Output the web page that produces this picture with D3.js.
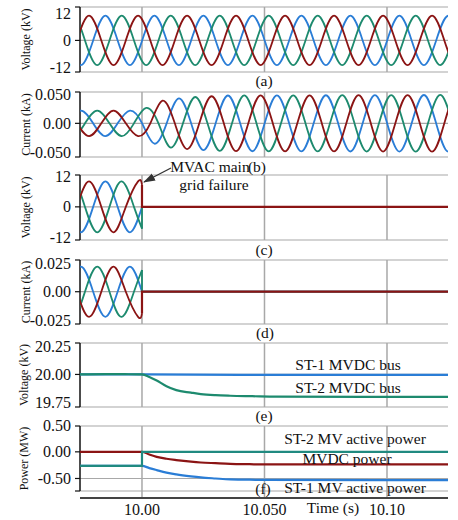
<!DOCTYPE html>
<html>
<head>
<meta charset="utf-8">
<script src="https://cdn.jsdelivr.net/npm/d3@7"></script>
<style>
  body { margin: 0; background: #fff; }
  text { font-family: "Liberation Serif", "Times New Roman", serif; fill: #111; }
</style>
</head>
<body>
<svg id="chart" width="458" height="520"></svg>
<script>
// ---- data ----
var xTicks = [10.00, 10.05, 10.10];
var xTickLabels = ["10.00", "10.050", "10.10"];
var failTime = 10.00;

// three phase ac: 50 Hz, red phase voltage peaks at 9.9984 s
var freq = 50;
var redPeakTime = 9.9984;
var phases = ["blue", "green", "red"];
var phaseLag = [1 / 3, 2 / 3, 0];   // part of a period behind red

// (a) MVAC voltage amplitude (kV)
var voltA_t = [9.97, 10.13];
var voltA_amp = [10.8, 10.8];
// (b) MVAC current amplitude (kA)
var currB_t = [9.97, 10.000, 10.005, 10.010, 10.020, 10.035, 10.13];
var currB_amp = [0.022, 0.022, 0.035, 0.041, 0.045, 0.048, 0.049];
// (c) main grid voltage, drops to zero at failTime
var voltC_amp = 9.9;
var voltC_atFail = [-0.1, -8.5, 8.6];
// (d) main grid current
var currD_amp = 0.022;
var currD_atFail = [0.0, 0.019, -0.019];

// (e) MVDC bus voltages (kV)
var st1BusT = [9.9747, 10.00, 10.04, 10.1249];
var st1Bus = [20.0, 20.0, 19.996, 19.996];
var st2BusT = [9.9747, 9.985, 9.993, 10.000, 10.003, 10.006, 10.010, 10.014, 10.020, 10.024, 10.030, 10.036, 10.045, 10.055, 10.1249];
var st2Bus = [20.0, 20.003, 20.002, 20.0, 19.978, 19.946, 19.895, 19.86, 19.838, 19.825, 19.815, 19.81, 19.806, 19.802, 19.80];

// (f) powers (MW)
var st2PowT = [9.9747, 10.0, 10.0, 10.1249];
var st2Pow = [-0.262, -0.262, 0.0, 0.0];
var mvdcPowT = [9.9747, 10.0, 10.003, 10.006, 10.010, 10.014, 10.020, 10.024, 10.030, 10.036, 10.044, 10.05, 10.1249];
var mvdcPow = [0, 0, -0.05, -0.094, -0.13, -0.155, -0.185, -0.2, -0.213, -0.225, -0.232, -0.236, -0.237];
var st1PowT = [9.9747, 10.0, 10.003, 10.006, 10.010, 10.014, 10.020, 10.024, 10.030, 10.036, 10.044, 10.05, 10.1249];
var st1Pow = [-0.262, -0.262, -0.305, -0.343, -0.39, -0.423, -0.46, -0.48, -0.5, -0.517, -0.522, -0.528, -0.53];

// tick labels
var voltTicks = [12, 0, -12], voltTickLabels = ["12", "0", "-12"];
var currBTicks = [0.05, 0, -0.05], currBTickLabels = ["0.050", "0.00", "-0.050"];
var currDTicks = [0.025, 0, -0.025], currDTickLabels = ["0.025", "0.00", "-0.025"];
var busTicks = [20.25, 20, 19.75], busTickLabels = ["20.25", "20.00", "19.75"];
var powTicks = [0.5, 0, -0.5], powTickLabels = ["0.50", "0.00", "-0.50"];

// ---- layout ----
var colors = {blue: "#2a7dd6", green: "#1d8a6e", red: "#8b1414"};
var svg = d3.select("#chart");
var left = 80, right = 448, axisY = 498;
var x = d3.scaleLinear().domain([9.9747, 10.1249]).range([left, right]);

svg.append("defs").append("clipPath").attr("id", "plot")
    .append("rect").attr("x", left).attr("y", 0).attr("width", right - left).attr("height", 520);
svg.select("defs").append("marker")
    .attr("id", "arrow").attr("markerUnits", "userSpaceOnUse")
    .attr("viewBox", "0 -5 12 10").attr("refX", 11).attr("refY", 0)
    .attr("markerWidth", 12).attr("markerHeight", 10).attr("orient", "auto")
    .append("path").attr("d", "M0,-4L12,0L0,4Z").attr("fill", "#333");

var panels = [
    {top: 7, bottom: 72, domain: [-13.8, 14.6], ticks: voltTicks, tickLabels: voltTickLabels, grid: [0],
     title: "Voltage (kV)", titleX: 26, label: "(a)", labelX: 264, labelY: 86},
    {top: 92, bottom: 157, domain: [-0.058, 0.054], ticks: currBTicks, tickLabels: currBTickLabels, grid: [0],
     title: "Current (kA)", titleX: 26, label: "(b)", labelX: 257, labelY: 172},
    {top: 175, bottom: 240, domain: [-12.9, 12.4], ticks: voltTicks, tickLabels: voltTickLabels, grid: [0],
     title: "Voltage (kV)", titleX: 26, label: "(c)", labelX: 264, labelY: 255},
    {top: 260, bottom: 324, domain: [-0.0283, 0.0278], ticks: currDTicks, tickLabels: currDTickLabels, grid: [0],
     title: "Current (kA)", titleX: 26, label: "(d)", labelX: 265, labelY: 338},
    {top: 343, bottom: 407, domain: [19.71, 20.28], ticks: busTicks, tickLabels: busTickLabels, grid: [20],
     title: "Voltage (kV)", titleX: 24, label: "(e)", labelX: 264, labelY: 421},
    {top: 426, bottom: 491, domain: [-0.735, 0.485], ticks: powTicks, tickLabels: powTickLabels, grid: [0, -0.5],
     title: "Power (MW)", titleX: 24, label: "(f)", labelX: 263, labelY: 494}
];

panels.forEach(function(p, i) {
    p.y = d3.scaleLinear().domain(p.domain).range([p.bottom, p.top]);
    var g = svg.append("g").attr("class", "panel");
    var gridBottom = i == panels.length - 1 ? axisY : p.bottom;

    // horizontal grid: borders plus inner lines
    var hLines = [p.top, p.bottom].concat(p.grid.map(p.y));
    g.selectAll(".hgrid").data(hLines).enter().append("line")
        .attr("x1", left).attr("x2", right).attr("y1", d => d).attr("y2", d => d)
        .attr("stroke", "#a8a8a8").attr("stroke-width", 1.2);
    g.selectAll(".vgrid").data(xTicks).enter().append("line")
        .attr("x1", d => x(d)).attr("x2", d => x(d)).attr("y1", p.top).attr("y2", gridBottom)
        .attr("stroke", "#a8a8a8").attr("stroke-width", 1.5);

    // left axis
    g.append("line").attr("x1", left).attr("x2", left).attr("y1", p.top).attr("y2", p.bottom)
        .attr("stroke", "#111").attr("stroke-width", 1.5);
    g.selectAll(".tick").data(hLines).enter().append("line")
        .attr("x1", left - 5).attr("x2", left).attr("y1", d => d).attr("y2", d => d)
        .attr("stroke", "#111").attr("stroke-width", 1.2);
    g.selectAll(".tlabel").data(p.ticks).enter().append("text")
        .attr("x", left - 9).attr("y", d => p.y(d)).attr("dy", "0.35em")
        .attr("text-anchor", "end").style("font-size", "16px")
        .text((d, j) => p.tickLabels[j]);
    g.append("text")
        .attr("transform", "translate(" + p.titleX + "," + (p.top + p.bottom) / 2 + ") rotate(-90)")
        .attr("text-anchor", "middle").attr("dy", "0.35em").style("font-size", "12px")
        .text(p.title);
    p.g = g;
});

// ---- ac waveforms: extremes and zero crossings through a natural spline ----
function wavePoints(ampAt, sign, lag, t0, t1) {
    var T = 1 / freq, pts = [];
    var base = redPeakTime + lag * T;
    var k0 = Math.floor((t0 - base) / (T / 2)) - 1;
    var k1 = Math.ceil((t1 - base) / (T / 2)) + 1;
    for (var k = k0; k <= k1; k++) {
        var tk = base + k * T / 2;
        var s = ((k % 2) + 2) % 2 == 0 ? 1 : -1;
        pts.push([tk, sign * s * ampAt(tk)]);
        pts.push([tk + T / 4, 0]);
    }
    return pts;
}

function drawWaves(p, ampAt, sign, atFail) {
    var spline = d3.line().x(d => x(d[0])).y(d => p.y(d[1])).curve(d3.curveNatural);
    var straight = d3.line().x(d => x(d[0])).y(d => p.y(d[1]));
    var layer = p.g.append("g").attr("clip-path", "url(#plot)");
    phases.forEach(function(ph, i) {
        var pts = wavePoints(ampAt, sign, phaseLag[i], x.domain()[0], x.domain()[1]);
        if (atFail) {
            pts = pts.filter(d => d[0] < failTime);
            pts.push([failTime, atFail[i]]);
        }
        layer.append("path").attr("d", spline(pts))
            .attr("fill", "none").attr("stroke", colors[ph]).attr("stroke-width", 1.8);
        if (atFail) {
            layer.append("path")
                .attr("d", straight([[failTime, atFail[i]], [failTime, 0], [x.domain()[1], 0]]))
                .attr("fill", "none").attr("stroke", colors[ph]).attr("stroke-width", i == 2 ? 2.2 : 1.8);
        }
    });
}

var ampA = d3.scaleLinear().domain(voltA_t).range(voltA_amp).clamp(true);
var ampB = d3.scaleLinear().domain(currB_t).range(currB_amp).clamp(true);
drawWaves(panels[0], ampA, 1, null);
drawWaves(panels[1], ampB, -1, null);
drawWaves(panels[2], () => voltC_amp, 1, voltC_atFail);
drawWaves(panels[3], () => currD_amp, -1, currD_atFail);

// ---- dc traces ----
function drawTrace(p, ts, vs, color, curve) {
    var line = d3.line().x(d => x(d[0])).y(d => p.y(d[1])).curve(curve);
    p.g.append("path").attr("d", line(d3.zip(ts, vs)))
        .attr("fill", "none").attr("stroke", color).attr("stroke-width", 2.2);
}
drawTrace(panels[4], st1BusT, st1Bus, colors.blue, d3.curveLinear);
drawTrace(panels[4], st2BusT, st2Bus, colors.green, d3.curveMonotoneX);
drawTrace(panels[5], st1PowT, st1Pow, colors.blue, d3.curveMonotoneX);
drawTrace(panels[5], mvdcPowT, mvdcPow, colors.red, d3.curveMonotoneX);
drawTrace(panels[5], st2PowT, st2Pow, "#208a80", d3.curveLinear);

// ---- texts ----
function label(tx, ty, str, anchor) {
    svg.append("text").attr("x", tx).attr("y", ty).attr("text-anchor", anchor || "middle")
        .style("font-size", "15.5px").text(str);
}
panels.forEach(p => label(p.labelX, p.labelY, p.label));
label(348, 370, "ST-1 MVDC bus");
label(348, 393, "ST-2 MVDC bus");
label(355, 444, "ST-2 MV active power");
label(347, 464, "MVDC power");
label(355, 493, "ST-1 MV active power");
label(210, 172, "MVAC main");
label(214, 190, "grid failure");

svg.append("line").attr("x1", 171).attr("y1", 168).attr("x2", 144).attr("y2", 182)
    .attr("stroke", "#333").attr("stroke-width", 1.3).attr("marker-end", "url(#arrow)");

// ---- time axis ----
svg.append("line").attr("x1", left).attr("x2", right).attr("y1", axisY).attr("y2", axisY)
    .attr("stroke", "#444").attr("stroke-width", 1.8);
svg.selectAll(".xlabel").data(xTicks).enter().append("text")
    .attr("x", d => x(d)).attr("y", 515).attr("text-anchor", "middle")
    .style("font-size", "16px").text((d, i) => xTickLabels[i]);
label(333, 513, "Time (s)");
</script>
</body>
</html>
